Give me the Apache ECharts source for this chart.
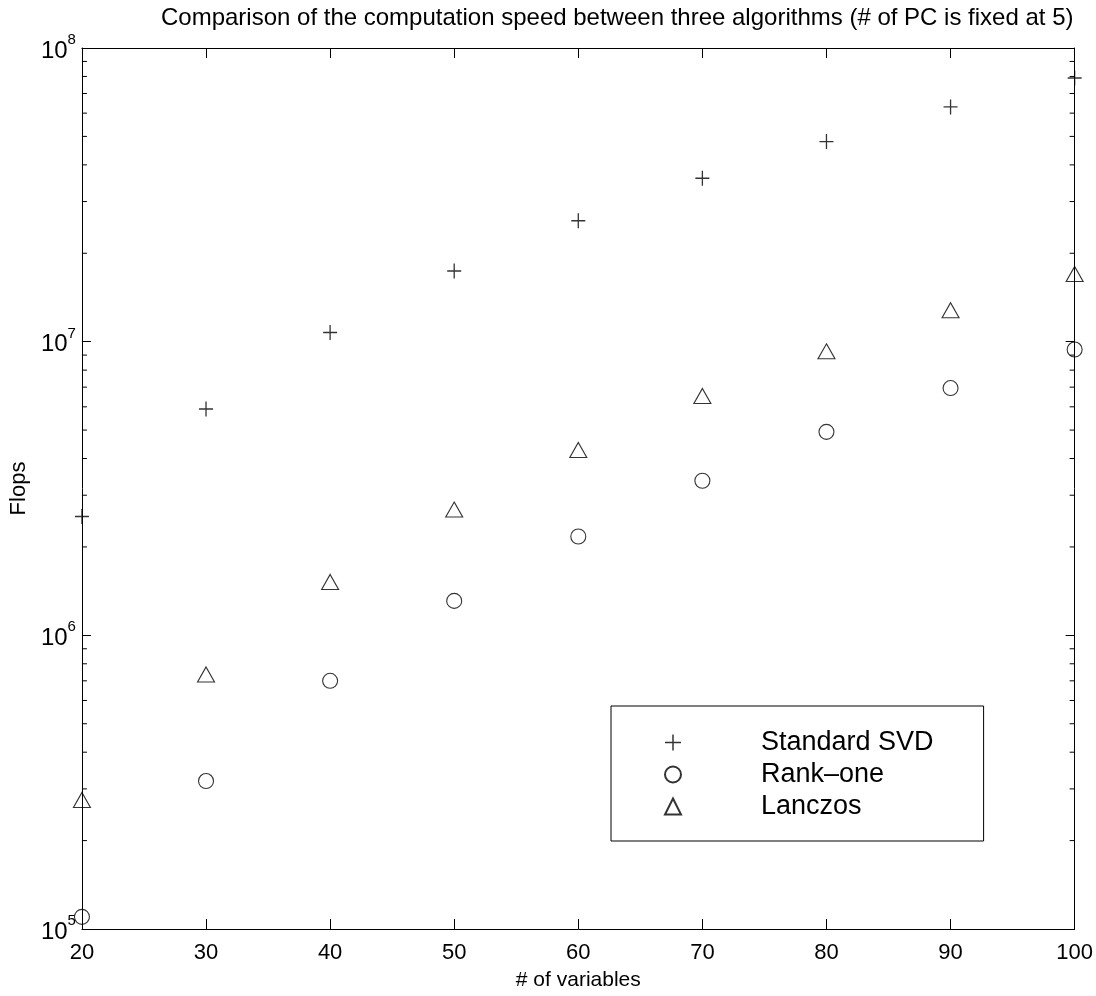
<!DOCTYPE html>
<html>
<head>
<meta charset="utf-8">
<script src="https://cdn.jsdelivr.net/npm/echarts@6/dist/echarts.min.js"></script>
<style>html,body{margin:0;padding:0;background:#fff}#c{width:1096px;height:996px}</style>
</head>
<body>
<div id="c"></div>
<script>
const xValues = [20, 30, 40, 50, 60, 70, 80, 90, 100];
const standardSVD = [2.54e6, 5.9e6, 1.075e7, 1.74e7, 2.58e7, 3.6e7, 4.8e7, 6.3e7, 7.9e7];
const rankOne = [1.10e5, 3.19e5, 7.0e5, 1.31e6, 2.17e6, 3.36e6, 4.93e6, 6.95e6, 9.4e6];
const lanczos = [2.75e5, 7.36e5, 1.52e6, 2.68e6, 4.28e6, 6.53e6, 9.27e6, 1.28e7, 1.70e7];
const seriesNames = ['Standard SVD', 'Rank\u2013one', 'Lanczos'];
const titleText = 'Comparison of the computation speed between three algorithms (# of PC is fixed at 5)';
const xName = '# of variables';
const yName = 'Flops';
const minorTickValues = [];
for (let e = 5; e < 8; e++) for (let m = 2; m <= 9; m++) minorTickValues.push(m * Math.pow(10, e));

const FONT = 'Liberation Sans, Arial, Helvetica, sans-serif';
const pair = arr => xValues.map((x, i) => [x, arr[i]]);
const plusPath = 'path://M0,6.35H14V7.65H0Z M6.35,0H7.65V14H6.35Z';

const chart = echarts.init(document.getElementById('c'));
const axisCommon = {
  axisLine: { lineStyle: { color: '#000', width: 1 } },
  splitLine: { show: false }
};
chart.setOption({
  animation: false,
  backgroundColor: '#fff',
  title: {
    text: titleText, left: 156, top: 1,
    textStyle: { fontFamily: FONT, fontSize: 24, fontWeight: 'normal', color: '#000' }
  },
  grid: { left: 77, right: 18, top: 48, bottom: 62 },
  legend: {
    orient: 'vertical', left: 611, top: 706,
    data: seriesNames,
    backgroundColor: '#fff', borderColor: '#000', borderWidth: 1,
    padding: [23, 50, 21, 53],
    itemWidth: 16, itemHeight: 16, itemGap: 5,
    textStyle: { fontFamily: FONT, fontSize: 27, color: '#000', padding: [0, 0, 0, 75] },
    selectedMode: false
  },
  xAxis: [{
    type: 'value', min: 20, max: 100, interval: 10, position: 'bottom',
    ...axisCommon,
    axisTick: { inside: true, length: 10, lineStyle: { color: '#000' } },
    axisLabel: { margin: 13, fontFamily: FONT, fontSize: 22, color: '#000' },
    name: xName, nameLocation: 'middle', nameGap: 41,
    nameTextStyle: { fontFamily: FONT, fontSize: 21, color: '#000' }
  }, {
    type: 'value', min: 20, max: 100, interval: 10, position: 'top',
    ...axisCommon,
    axisTick: { inside: true, length: 10, lineStyle: { color: '#000' } },
    axisLabel: { show: false }
  }],
  yAxis: [{
    type: 'log', logBase: 10, min: 1e5, max: 1e8, position: 'left',
    ...axisCommon,
    axisTick: { inside: true, length: 9, lineStyle: { color: '#000' } },
    axisLabel: {
      margin: 6, color: '#000', fontFamily: FONT,
      formatter: v => '{b|10}{s|' + Math.round(Math.log10(v)) + '}',
      rich: {
        b: { fontFamily: FONT, fontSize: 24, color: '#000', padding: [6, 0, 0, 0] },
        s: { fontFamily: FONT, fontSize: 15, color: '#000', padding: [0, 0, 16, 0] }
      }
    },
    name: yName, nameLocation: 'middle', nameGap: 50, nameRotate: 90,
    nameTextStyle: { fontFamily: FONT, fontSize: 22, color: '#000' }
  }, {
    type: 'log', logBase: 10, min: 1e5, max: 1e8, position: 'right',
    ...axisCommon,
    axisTick: { inside: true, length: 9, lineStyle: { color: '#000' } },
    axisLabel: { show: false }
  }],
  series: [
    {
      name: seriesNames[0], type: 'scatter', data: pair(standardSVD), clip: false,
      symbol: plusPath, symbolSize: [14, 15],
      itemStyle: { color: '#000' }
    },
    {
      name: seriesNames[1], type: 'scatter', data: pair(rankOne), clip: false,
      symbol: 'circle', symbolSize: 15,
      itemStyle: { color: 'rgba(255,255,255,0)', borderColor: '#000', borderWidth: 1.1 }
    },
    {
      name: seriesNames[2], type: 'scatter', data: pair(lanczos), clip: false,
      symbol: 'triangle', symbolSize: [17, 15],
      itemStyle: { color: 'rgba(255,255,255,0)', borderColor: '#000', borderWidth: 1.1 }
    },
    {
      type: 'custom', silent: true, clip: false, legendHoverLink: false,
      data: minorTickValues.map(v => [v]),
      encode: { y: 0 },
      renderItem: (params, api) => {
        const v = api.value(0);
        const pl = api.coord([20, v]);
        const pr = api.coord([100, v]);
        const st = { stroke: '#000', lineWidth: 1 };
        return {
          type: 'group', children: [
            { type: 'line', shape: { x1: pl[0], y1: pl[1], x2: pl[0] + 5, y2: pl[1] }, style: st },
            { type: 'line', shape: { x1: pr[0], y1: pr[1], x2: pr[0] - 5, y2: pr[1] }, style: st }
          ]
        };
      }
    }
  ]
});
</script>
</body>
</html>
